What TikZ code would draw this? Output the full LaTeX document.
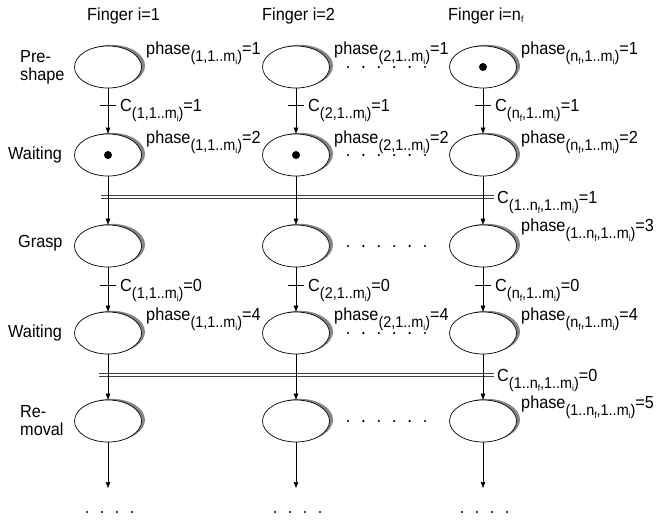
\documentclass[tikz,border=0pt]{standalone}
\usepackage{fontspec}
\setmainfont{Liberation Sans}[FakeStretch=0.93]
\usetikzlibrary{shapes.geometric,shadows,arrows.meta}
\newcommand\mainsz{\fontsize{17.5}{18}\selectfont}
\newcommand\sbx[1]{\raisebox{-7.5pt}{\fontsize{15.5}{16}\selectfont #1}}
\newcommand\sbt[1]{\raisebox{-2.5pt}{\fontsize{9}{9.5}\selectfont #1}}
\begin{document}
\begin{tikzpicture}[x=1pt,y=-1pt,
  state/.style={ellipse, draw, line width=0.7pt, fill=white, minimum width=67pt, minimum height=42pt, inner sep=0pt,
     drop shadow={shadow xshift=3.5pt, shadow yshift=1.2pt, fill=black!48, opacity=1}},
  arr/.style={-{Triangle[length=6pt,width=4.5pt]}, line width=0.6pt},
  lbl/.style={font=\mainsz, inner sep=0pt, anchor=base west},
  side/.style={font=\mainsz, inner sep=0pt, anchor=west, align=left},
  tokenst/.style={circle, fill=black, minimum size=8pt, inner sep=0pt},
  bar/.style={draw=black!75, double=white, double distance=2.4pt, line width=0.6pt},
  tickst/.style={line width=0.6pt},
  dotst/.style={fill=black}]
\useasboundingbox (0,0) rectangle (662,520);
\def\XA{108}\def\XB{296}\def\XC{483}
\def\RA{67}\def\RB{155}\def\RC{246}\def\RD{333}\def\RE{421}
% states
\foreach \c/\x in {1/\XA,2/\XB,3/\XC}{
  \foreach \r/\y in {1/\RA,2/\RB,3/\RC,4/\RD,5/\RE}{
    \node[state] (s\r\c) at (\x,\y) {};
  }
  \coordinate (ta\c) at (\x,105);
  \coordinate (tb\c) at (\x,285);
  \coordinate (e\c) at (\x,488);
}
% double bars
\coordinate (bal) at (101,197); \coordinate (bar) at (494,197);
\coordinate (bbl) at (99,375); \coordinate (bbr) at (494,375);
\draw[bar] (bal) -- (bar);
\draw[bar] (bbl) -- (bbr);
% headers
\node[lbl] (h1) at (87,20) {Finger i=1};
\node[lbl] (h2) at (262,20) {Finger i=2};
\node[lbl] (h3) at (448,20) {Finger i=n\sbt{f}};
% side labels
\node[side] (l1) at (20,\RA) {Pre-\\shape};
\node[side] (l2) at (8,\RB) {Waiting};
\node[side] (l3) at (18,243) {Grasp};
\node[side] (l4) at (8,\RD) {Waiting};
\node[side] (l5) at (20,\RE) {Re-\\moval};
% tokens
\node[tokenst] (k13) at (s13) {};
\node[tokenst] (k21) at (s21) {};
\node[tokenst] (k22) at (s22) {};
% arcs
\foreach \c in {1,2,3}{
  \draw[arr] (s1\c) -- (s2\c);
  \draw[arr] (s2\c) -- (s3\c);
  \draw[arr] (s3\c) -- (s4\c);
  \draw[arr] (s4\c) -- (s5\c);
  \draw[arr] (s5\c) -- (e\c);
  \draw[tickst] ([xshift=-8pt]ta\c) -- ([xshift=8pt]ta\c);
  \draw[tickst] ([xshift=-8pt]tb\c) -- ([xshift=8pt]tb\c);
}
% transition labels
\node[lbl] (c11) at (\XA+12,111) {C\sbx{(1,1..m\sbt{i})}=1};
\node[lbl] (c12) at (\XB+12,111) {C\sbx{(2,1..m\sbt{i})}=1};
\node[lbl] (c13) at (\XC+12,111) {C\sbx{(n\sbt{f},1..m\sbt{i})}=1};
\node[lbl] (c31) at (\XA+12,291) {C\sbx{(1,1..m\sbt{i})}=0};
\node[lbl] (c32) at (\XB+12,291) {C\sbx{(2,1..m\sbt{i})}=0};
\node[lbl] (c33) at (\XC+12,291) {C\sbx{(n\sbt{f},1..m\sbt{i})}=0};
\node[lbl] (d1) at (497,203) {C\sbx{(1..n\sbt{f},1..m\sbt{i})}=1};
\node[lbl] (d2) at (497,381) {C\sbx{(1..n\sbt{f},1..m\sbt{i})}=0};
% phase labels
\node[lbl] (p11) at (\XA+38,\RA-13) {phase\sbx{(1,1..m\sbt{i})}=1};
\node[lbl] (p12) at (\XB+38,\RA-13) {phase\sbx{(2,1..m\sbt{i})}=1};
\node[lbl] (p13) at (\XC+38,\RA-13) {phase\sbx{(n\sbt{f},1..m\sbt{i})}=1};
\node[lbl] (p21) at (\XA+38,\RB-12) {phase\sbx{(1,1..m\sbt{i})}=2};
\node[lbl] (p22) at (\XB+38,\RB-12) {phase\sbx{(2,1..m\sbt{i})}=2};
\node[lbl] (p23) at (\XC+38,\RB-12) {phase\sbx{(n\sbt{f},1..m\sbt{i})}=2};
\node[lbl] (p33) at (\XC+38,\RC-15) {phase\sbx{(1..n\sbt{f},1..m\sbt{i})}=3};
\node[lbl] (p41) at (\XA+38,\RD-13) {phase\sbx{(1,1..m\sbt{i})}=4};
\node[lbl] (p42) at (\XB+38,\RD-13) {phase\sbx{(2,1..m\sbt{i})}=4};
\node[lbl] (p43) at (\XC+38,\RD-13) {phase\sbx{(n\sbt{f},1..m\sbt{i})}=4};
\node[lbl] (p53) at (\XC+38,\RE-13) {phase\sbx{(1..n\sbt{f},1..m\sbt{i})}=5};
% ellipsis dots between columns
\foreach \y in {\RA,\RB,\RC,\RD,\RE}{
  \foreach \i in {0,...,5}{ \fill[dotst] (348+\i*15.4,\y) circle (1.2pt); }
}
% bottom dots
\foreach \x in {\XA,\XB,\XC}{
  \foreach \i in {0,...,3}{ \fill[dotst] (\x-21+\i*15,512) circle (1.1pt); }
}
\end{tikzpicture}
\end{document}
